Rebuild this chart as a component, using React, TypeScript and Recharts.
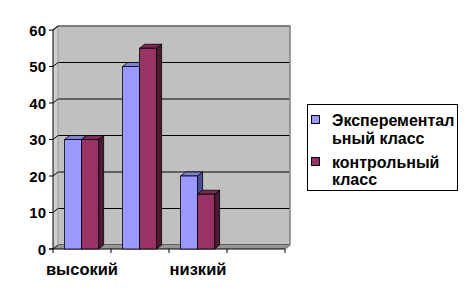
import React from "react";
import {
  BarChart,
  Bar,
  XAxis,
  YAxis,
  CartesianGrid,
  Legend,
  Customized,
} from "recharts";

// chart values
const categories = ["высокий", "средний", "низкий", ""];
const experimental = [30, 50, 20, null];
const control = [30, 55, 15, null];
const seriesNames = ["Эксперементальный класс", "контрольный класс"];
const legendLines = [
  ["Эксперементал", "ьный класс"],
  ["контрольный", "класс"],
];
const yTicks = [0, 10, 20, 30, 40, 50, 60];

const data = categories.map((name, i) => ({
  name,
  exp: experimental[i],
  ctl: control[i],
}));

// layout of the fake 3d box (back wall = plot area)
const W = 468;
const H = 299;
const PLOT = { left: 58, top: 26, right: 290, bottom: 245 };
const DX = 5;
const DY = 4;
const FONT = "'Liberation Sans', Arial, sans-serif";

const COLORS = [
  { front: "#9999ff", top: "#8080d8", side: "#4d4d99" },
  { front: "#993366", top: "#7d2a53", side: "#4d1a33" },
];

const makeShape = (c: { front: string; top: string; side: string }) => (p: any) => {
  const { x, y, width: w, height: h } = p;
  if (!h || h <= 0) return <g />;
  const fx = x - DX;
  const fy = y + DY;
  return (
    <g stroke="#000" strokeWidth={0.8}>
      <polygon
        points={`${x + w},${y} ${fx + w},${fy} ${fx + w},${fy + h} ${x + w},${y + h}`}
        fill={c.side}
      />
      <polygon
        points={`${fx},${fy} ${fx + w},${fy} ${x + w},${y} ${x},${y}`}
        fill={c.top}
      />
      <rect x={fx} y={fy} width={w} height={h} fill={c.front} />
    </g>
  );
};

const YTick = (p: any) => {
  const { x, y, payload } = p;
  return (
    <g>
      <line x1={x - DX} y1={y + DY} x2={x} y2={y} stroke="#000" />
      <line x1={x - DX - 4} y1={y + DY} x2={x - DX} y2={y + DY} stroke="#000" />
      <text
        x={x - DX - 7}
        y={y + DY}
        textAnchor="end"
        dominantBaseline="central"
        fontFamily={FONT}
        fontWeight="bold"
        fontSize={15}
        fill="#000"
      >
        {payload.value}
      </text>
    </g>
  );
};

const XTick = (p: any) => {
  const { x, payload } = p;
  return (
    <text
      x={x - DX}
      y={PLOT.bottom + DY + 20}
      textAnchor="middle"
      dominantBaseline="central"
      fontFamily={FONT}
      fontWeight="bold"
      fontSize={16.5}
      fill="#000"
    >
      {payload.value}
    </text>
  );
};

const BackFrame = () => {
  const { left: l, top: t, right: r, bottom: b } = PLOT;
  return (
    <g>
      <polygon
        points={`${l - DX},${t + DY} ${l},${t} ${l},${b} ${l - DX},${b + DY}`}
        fill="#cfcfcf"
      />
      <polygon
        points={`${l - DX},${b + DY} ${l},${b} ${r},${b} ${r - DX},${b + DY}`}
        fill="#969696"
      />
      <polyline
        points={`${l - DX},${t + DY} ${l},${t} ${r},${t} ${r},${b} ${r - DX},${b + DY}`}
        fill="none"
        stroke="#808080"
        strokeWidth={1.5}
      />
      <line x1={l} y1={t} x2={l} y2={b} stroke="#9a9a9a" />
    </g>
  );
};

const FrontFrame = () => {
  const { left: l, top: t, right: r, bottom: b } = PLOT;
  const step = (r - l) / categories.length;
  return (
    <g stroke="#000">
      <line x1={l - DX} y1={t + DY} x2={l - DX} y2={b + DY} />
      <line x1={l - DX - 4} y1={b + DY} x2={r - DX} y2={b + DY} />
      {categories
        .map((_, i) => i)
        .concat(categories.length)
        .map((i) => (
          <line
            key={i}
            x1={l - DX + i * step}
            y1={b + DY}
            x2={l - DX + i * step}
            y2={b + DY + 4}
          />
        ))}
    </g>
  );
};

const LegendBox = () => (
  <div
    style={{
      border: "1px solid #000",
      background: "#fff",
      padding: "7px 2px 1px 3px",
      fontFamily: FONT,
      fontWeight: "bold",
      fontSize: 16,
      lineHeight: "17.5px",
      color: "#000",
      width: 144,
      boxSizing: "content-box",
    }}
  >
    {seriesNames.map((name, i) => (
      <div key={name} style={{ display: "flex", marginBottom: i === 0 ? 6.5 : 0 }}>
        <div
          style={{
            width: 7,
            height: 7,
            border: "1px solid #000",
            background: COLORS[i].front,
            marginTop: 3,
            marginRight: 12,
            flex: "none",
          }}
        />
        <div style={{ whiteSpace: "nowrap" }}>
          {legendLines[i].map((ln) => (
            <div key={ln}>{ln}</div>
          ))}
        </div>
      </div>
    ))}
  </div>
);

export default function App() {
  return (
    <div style={{ position: "absolute", left: 0, top: 0, background: "#fff" }}>
      <BarChart
        width={W}
        height={H}
        data={data}
        margin={{ top: PLOT.top, right: W - PLOT.right, bottom: 24, left: 20 }}
        barCategoryGap="20%"
        barGap={0}
      >
        <Customized component={BackFrame} />
        <CartesianGrid vertical={false} stroke="#000" fill="#c0c0c0" fillOpacity={1} />
        <YAxis
          width={38}
          domain={[0, 60]}
          ticks={yTicks}
          tick={<YTick />}
          tickLine={false}
          axisLine={false}
          tickSize={0}
          tickMargin={0}
          interval={0}
        />
        <XAxis
          dataKey="name"
          height={30}
          tick={<XTick />}
          tickLine={false}
          axisLine={false}
          tickSize={0}
          interval={1}
        />
        <Legend
          layout="horizontal"
          verticalAlign="middle"
          content={<LegendBox />}
          wrapperStyle={{ left: 307, top: 104, width: 151, height: 84 }}
        />
        <Bar dataKey="exp" name={seriesNames[0]} fill={COLORS[0].front} shape={makeShape(COLORS[0])} isAnimationActive={false} />
        <Bar dataKey="ctl" name={seriesNames[1]} fill={COLORS[1].front} shape={makeShape(COLORS[1])} isAnimationActive={false} />
        <Customized component={FrontFrame} />
      </BarChart>
    </div>
  );
}
